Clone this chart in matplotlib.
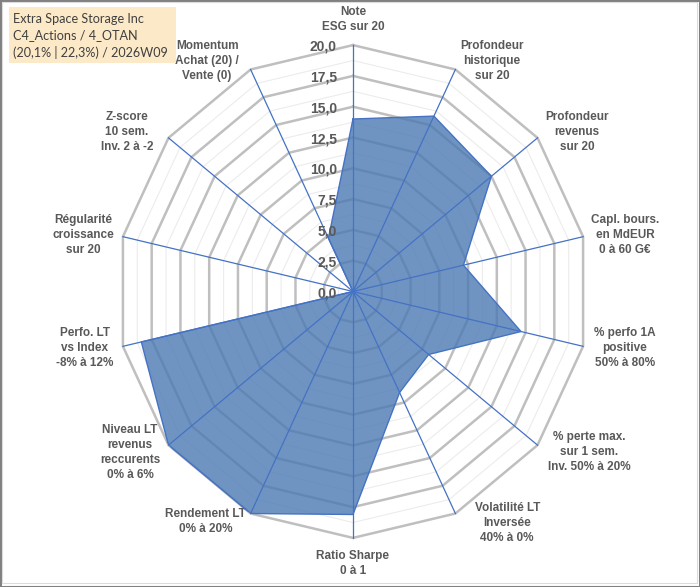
import numpy as np
import matplotlib
matplotlib.use("Agg")
import matplotlib.pyplot as plt
from matplotlib.patches import Rectangle
from matplotlib.transforms import offset_copy

# ---- data ----
categories = [
    "Note\nESG sur 20",
    "Profondeur\nhistorique\nsur 20",
    "Profondeur\nrevenus\nsur 20",
    "Capl. bours.\nen MdEUR\n0 à 60 G€",
    "% perfo 1A\npositive\n50% à 80%",
    "% perte max.\nsur 1 sem.\nInv. 50% à 20%",
    "Volatilité LT\nInversée\n40% à 0%",
    "Ratio Sharpe\n0 à 1",
    "Rendement LT\n0% à 20%",
    "Niveau LT\nrevenus\nreccurents\n0% à 6%",
    "Perfo. LT\nvs Index\n-8% à 12%",
    "Régularité\ncroissance\nsur 20",
    "Z-score\n10 sem.\nInv. 2 à -2",
    "Momentum\nAchat (20) /\nVente (0)",
]
scores = [14.0, 15.8, 15.0, 9.6, 14.6, 8.2, 9.1, 18.1, 20.0, 20.0, 18.4, 0.0, 0.0, 4.8]
r_ticks = [0.0, 2.5, 5.0, 7.5, 10.0, 12.5, 15.0, 17.5, 20.0]
title_lines = ["Extra Space Storage Inc", "C4_Actions / 4_OTAN", "(20,1% | 22,3%) / 2026W09"]

# ---- layout (label placement: angle in degrees, radius in data units) ----
label_theta_deg = [0, 32.2, 55.7, 78.8, 101.2, 123.1, 145.2, 180, 213.8, 235.4, 258.6, 281.3, 304.0, 326.5]
label_r = [22.1, 22.1, 23.0, 23.5, 23.5, 23.9, 22.9, 22.1, 22.5, 22.95, 23.2, 23.3, 23.1, 22.4]

W, H = 700, 587
fig = plt.figure(figsize=(W / 100, H / 100), dpi=100)
fig.patch.set_facecolor("white")

cx, cy, rx, ry = 353, 291.5, 236, 246.4
ax = fig.add_axes([(cx - rx) / W, (H - cy - ry) / H, 2 * rx / W, 2 * ry / H], projection="polar")
ax.set_aspect("auto")
ax.set_theta_zero_location("N")
ax.set_theta_direction(-1)
ax.set_ylim(0, 20)
ax.grid(False)
ax.set_xticks([])
ax.set_yticks([])
ax.spines["polar"].set_visible(False)
ax.patch.set_alpha(0)

n = len(categories)
theta = np.arange(n) * 2 * np.pi / n
theta_c = np.append(theta, theta[0])

# polygonal grid rings
rmax = r_ticks[-1]
step = r_ticks[1] - r_ticks[0]
for k in range(1, int(round(rmax / (step / 2))) + 1):
    r = k * step / 2
    major = (k % 2 == 0)
    ax.plot(theta_c, np.full(n + 1, r),
            color="#bfbfbf" if major else "#ececec",
            lw=1.8 if major else 0.8, zorder=1, clip_on=False)

# data area
vals_c = np.append(scores, scores[0])
ax.fill(theta_c, vals_c, facecolor="#4c7ab3", alpha=0.8, edgecolor="none", zorder=3)
ax.plot(theta_c, vals_c, color="#4472c4", lw=1.0, zorder=5)

# spokes
for t in theta:
    ax.plot([t, t], [0, rmax], color="#4472c4", lw=0.9, zorder=4, clip_on=False)

# radial tick labels
tick_tr = offset_copy(ax.transData, fig=fig, x=-16, y=0, units="dots")
for r in r_ticks:
    ax.text(0, r, f"{r:.1f}".replace(".", ","), transform=tick_tr, ha="right",
            va="center_baseline", fontsize=10, fontweight="bold", color="#595959",
            family="Liberation Sans", zorder=6)

# category labels
for lab, td, lr in zip(categories, label_theta_deg, label_r):
    ax.text(np.deg2rad(td), lr, lab, ha="center", va="center", fontsize=8.5,
            fontweight="bold", color="#595959", family="Liberation Sans",
            linespacing=1.33, clip_on=False)

# title box
fig.patches.append(Rectangle((9 / W, 1 - 63 / H), 167 / W, 56 / H, transform=fig.transFigure,
                             facecolor="#fce9c8", edgecolor="none", zorder=0))
fig.text(13 / W, 1 - 36 / H, "\n".join(title_lines), ha="left", va="center",
         fontsize=9.1, color="#404040", family="Lato", linespacing=1.42)

# figure border
fig.patches.append(Rectangle((0, 0), 1, 1, transform=fig.transFigure, fill=False,
                             edgecolor="#808080", lw=2.2))
fig.patches.append(Rectangle((2 / W, 4 / H), (W - 5) / W, (H - 6) / H, transform=fig.transFigure,
                             fill=False, edgecolor="#dcdcdc", lw=0.8))

fig.savefig("out.png", dpi=100)
